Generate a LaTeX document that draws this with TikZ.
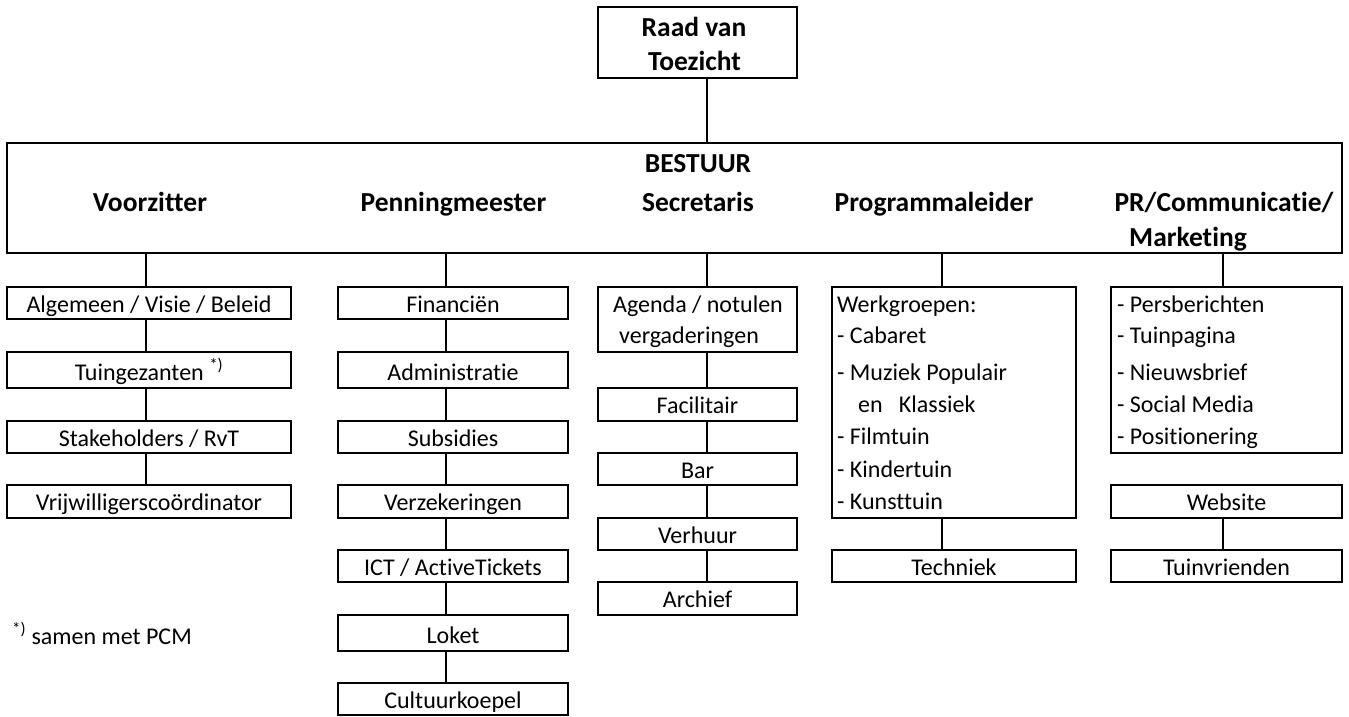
\documentclass[tikz,border=0pt]{standalone}
\usepackage{fontspec}
\setmainfont{Carlito}[Ligatures=NoCommon]
\begin{document}
\begin{tikzpicture}[x=1pt,y=-1pt,
  bx/.style={draw, line width=1.6pt, inner sep=0pt, text height=20pt, text depth=2pt, font=\fontsize{24}{29}\selectfont},
  bxt/.style={bx, text depth=0pt},
  ln/.style={line width=1.4pt},
  hd/.style={anchor=base, inner sep=0pt, font=\fontsize{27.5}{33}\selectfont\bfseries},
  li/.style={anchor=base west, inner sep=0pt, font=\fontsize{24}{29}\selectfont},
  tx/.style={anchor=base, inner sep=0pt, font=\fontsize{24}{29}\selectfont}]
\useasboundingbox (0,0) rectangle (1349,716);
% line x positions
\coordinate (c1) at (146,0);
\coordinate (c2) at (446,0);
\coordinate (c3) at (707,0);
\coordinate (c4) at (942,0);
\coordinate (c5) at (1223,0);
% top
\node[bx, minimum width=199pt, minimum height=71pt] (raad) at (697.5,42.5) {};
\node[hd] (raad1) at (694,36) {Raad van};
\node[hd] (raad2) at (694.5,70.5) {Toezicht};
\node[bx, minimum width=1335pt, minimum height=110pt] (bestuur) at (674.5,198) {};
\node[hd] (hbest) at (698,172) {BESTUUR};
\node[hd] (hvoor) at (150,211) {Voorzitter};
\node[hd] (hpen) at (453.5,211) {Penningmeester};
\node[hd] (hsec) at (698,211) {Secretaris};
\node[hd] (hprog) at (934,211) {Programmaleider};
\node[hd] (hpr) at (1224,211) {PR/Communicatie/};
\node[hd] (hmark) at (1188,246.5) {Marketing};
% column 1
\node[bx, minimum width=284pt, minimum height=32pt] (a1) at (149,303) {Algemeen / Visie / Beleid};
\node[bxt, minimum width=284pt, minimum height=36pt] (a2) at (149,370) {Tuingezanten \textsuperscript{*)}};
\node[bx, minimum width=284pt, minimum height=32pt] (a3) at (149,437) {Stakeholders / RvT};
\node[bx, minimum width=284pt, minimum height=33pt] (a4) at (149,501.5) {Vrijwilligerscoördinator};
\node[li] (foot) at (12,644) {\textsuperscript{*)} samen met PCM};
% column 2
\node[bx, minimum width=230pt, minimum height=32pt] (b1) at (453,303) {Financiën};
\node[bxt, minimum width=230pt, minimum height=36pt] (b2) at (453,370) {Administratie};
\node[bx, minimum width=230pt, minimum height=32pt] (b3) at (453,437) {Subsidies};
\node[bx, minimum width=230pt, minimum height=33pt] (b4) at (453,501.5) {Verzekeringen};
\node[bx, minimum width=230pt, minimum height=32pt] (b5) at (453,566) {ICT / ActiveTickets};
\node[bxt, minimum width=230pt, minimum height=36pt] (b6) at (453,633) {Loket};
\node[bx, minimum width=230pt, minimum height=32pt] (b7) at (453,699) {Cultuurkoepel};
% column 3
\node[bx, minimum width=199pt, minimum height=65pt] (s1) at (697.5,319.5) {};
\node[tx] (s1a) at (698,312) {Agenda / notulen};
\node[tx] (s1b) at (689,343) {vergaderingen};
\node[bx, minimum width=199pt, minimum height=33pt] (s2) at (697.5,404.5) {Facilitair};
\node[bx, minimum width=199pt, minimum height=32pt] (s3) at (697.5,469) {Bar};
\node[bx, minimum width=199pt, minimum height=32pt] (s4) at (697.5,534) {Verhuur};
\node[bx, minimum width=199pt, minimum height=33pt] (s5) at (697.5,598.5) {Archief};
% column 4
\node[bx, minimum width=244pt, minimum height=231pt] (p1) at (954,402.5) {};
\node[li] (p1a) at (837,312) {Werkgroepen:};
\node[li] (p1b) at (837,343) {- Cabaret};
\node[li] (p1c) at (837,380) {- Muziek Populair};
\node[li] (p1d) at (858,412) {en\hspace{0.45em} Klassiek};
\node[li] (p1e) at (837,444) {- Filmtuin};
\node[li] (p1f) at (837,477) {- Kindertuin};
\node[li] (p1g) at (837,509) {- Kunsttuin};
\node[bx, minimum width=244pt, minimum height=32pt] (p2) at (954,566) {Techniek};
% column 5
\node[bx, minimum width=231pt, minimum height=166pt] (r1) at (1226.5,370) {};
\node[li] (r1a) at (1117,312) {- Persberichten};
\node[li] (r1b) at (1117,343) {- Tuinpagina};
\node[li] (r1c) at (1117,380) {- Nieuwsbrief};
\node[li] (r1d) at (1117,412) {- Social Media};
\node[li] (r1e) at (1117,444) {- Positionering};
\node[bx, minimum width=231pt, minimum height=33pt] (r2) at (1226.5,501.5) {Website};
\node[bx, minimum width=231pt, minimum height=32pt] (r3) at (1226.5,566) {Tuinvrienden};
% connectors
\draw[ln] (raad.south -| c3) -- (bestuur.north -| c3);
\draw[ln] (bestuur.south -| c1) -- (a1.north -| c1);
\draw[ln] (a1.south -| c1) -- (a2.north -| c1);
\draw[ln] (a2.south -| c1) -- (a3.north -| c1);
\draw[ln] (a3.south -| c1) -- (a4.north -| c1);
\draw[ln] (bestuur.south -| c2) -- (b1.north -| c2);
\draw[ln] (b1.south -| c2) -- (b2.north -| c2);
\draw[ln] (b2.south -| c2) -- (b3.north -| c2);
\draw[ln] (b3.south -| c2) -- (b4.north -| c2);
\draw[ln] (b4.south -| c2) -- (b5.north -| c2);
\draw[ln] (b5.south -| c2) -- (b6.north -| c2);
\draw[ln] (b6.south -| c2) -- (b7.north -| c2);
\draw[ln] (bestuur.south -| c3) -- (s1.north -| c3);
\draw[ln] (s1.south -| c3) -- (s2.north -| c3);
\draw[ln] (s2.south -| c3) -- (s3.north -| c3);
\draw[ln] (s3.south -| c3) -- (s4.north -| c3);
\draw[ln] (s4.south -| c3) -- (s5.north -| c3);
\draw[ln] (bestuur.south -| c4) -- (p1.north -| c4);
\draw[ln] (p1.south -| c4) -- (p2.north -| c4);
\draw[ln] (bestuur.south -| c5) -- (r1.north -| c5);
\draw[ln] (r2.south -| c5) -- (r3.north -| c5);
\end{tikzpicture}
\end{document}
